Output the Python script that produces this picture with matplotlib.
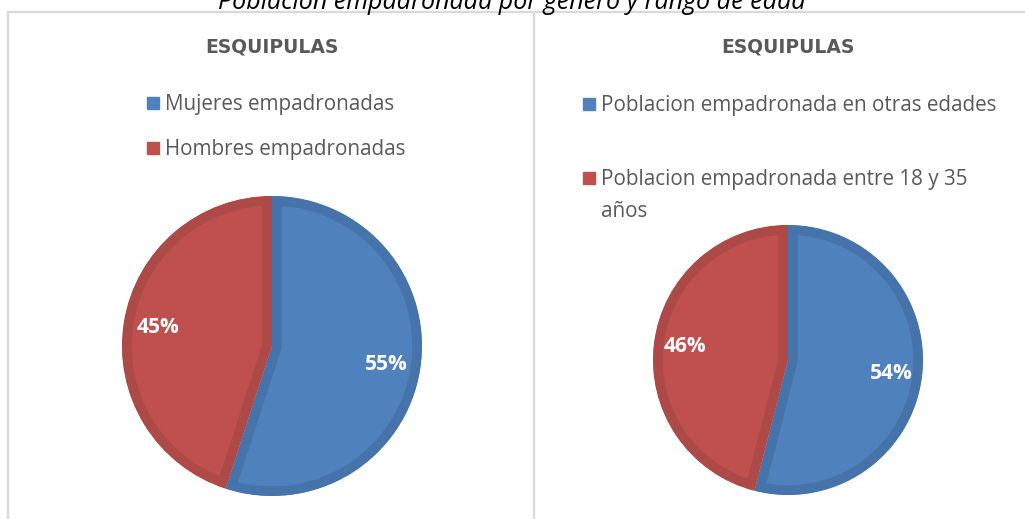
import matplotlib
matplotlib.use('Agg')
import matplotlib.pyplot as plt
from matplotlib.patches import Rectangle
from matplotlib.lines import Line2D

plt.rcParams['font.family'] = ['Open Sans', 'DejaVu Sans']

# Datos
titulo = "Poblacion empadronada por genero y rango de edad"
municipio = "ESQUIPULAS"

genero_labels = ["Mujeres empadronadas", "Hombres empadronadas"]
genero_vals = [55, 45]

edad_labels = ["Poblacion empadronada en otras edades",
               "Poblacion empadronada entre 18 y 35\naños"]
edad_vals = [54, 46]

colores = ['#4F81BD', '#C0504D']
bordes = ['#4673AA', '#AD4A47']
gris = '#595959'

W, H = 1025, 519
fig = plt.figure(figsize=(W / 100, H / 100), dpi=100)


def px(x, y):
    # pixeles (desde arriba) -> coordenadas de figura
    return x / W, 1 - y / H


# Marcos de los paneles
borde_col = '#D9D9D9'
for xs, ys in [([8, 8], [12, H]), ([8, W], [12, 12]), ([534, 534], [12, H])]:
    fig.add_artist(Line2D([x / W for x in xs], [1 - y / H for y in ys],
                          color=borde_col, lw=1.6, transform=fig.transFigure))

# Titulo general (recortado arriba, como en el original)
fig.text(*px(512, 9), titulo, ha='center', va='baseline', fontsize=18,
         style='italic', color='black')


def dibujar_pie(vals, cx, cy, r):
    ax = fig.add_axes([(cx - r) / W, (H - cy - r) / H, 2 * r / W, 2 * r / H])
    wedges, _, autotexts = ax.pie(vals, colors=colores, startangle=90,
                                  counterclock=False, radius=1,
                                  autopct='%1.0f%%', pctdistance=0.77,
                                  wedgeprops=dict(linewidth=14),
                                  textprops=dict(color='white', fontsize=15,
                                                 fontweight='bold'))
    ax.set_xlim(-1, 1)
    ax.set_ylim(-1, 1)
    ax.set_aspect('equal')
    ax.axis('off')
    # borde solo hacia dentro de cada porcion
    for w, b in zip(wedges, bordes):
        w.set_edgecolor(b)
        w.set_clip_on(True)
        w.set_clip_path(w)
    return ax


def leyenda(labels, x, ys):
    for lab, col, y in zip(labels, colores, ys):
        fig.add_artist(Rectangle(px(x, y + 6), 12 / W, 12 / H, color=col,
                                 transform=fig.transFigure))
        fig.text(*px(x + 18, y - 9), lab, ha='left', va='top', fontsize=14.9,
                 color=gris, linespacing=1.7)


# Panel izquierdo
fig.text(*px(272, 47), municipio, ha='center', va='center', fontsize=13.5,
         fontweight='bold', color=gris, family='DejaVu Sans')
leyenda(genero_labels, 147, [103, 148])
dibujar_pie(genero_vals, 272, 346, 150)

# Panel derecho
fig.text(*px(788, 47), municipio, ha='center', va='center', fontsize=13.5,
         fontweight='bold', color=gris, family='DejaVu Sans')
leyenda(edad_labels, 583, [104, 178])
dibujar_pie(edad_vals, 788, 360, 135)

fig.savefig('out.png', dpi=100)
